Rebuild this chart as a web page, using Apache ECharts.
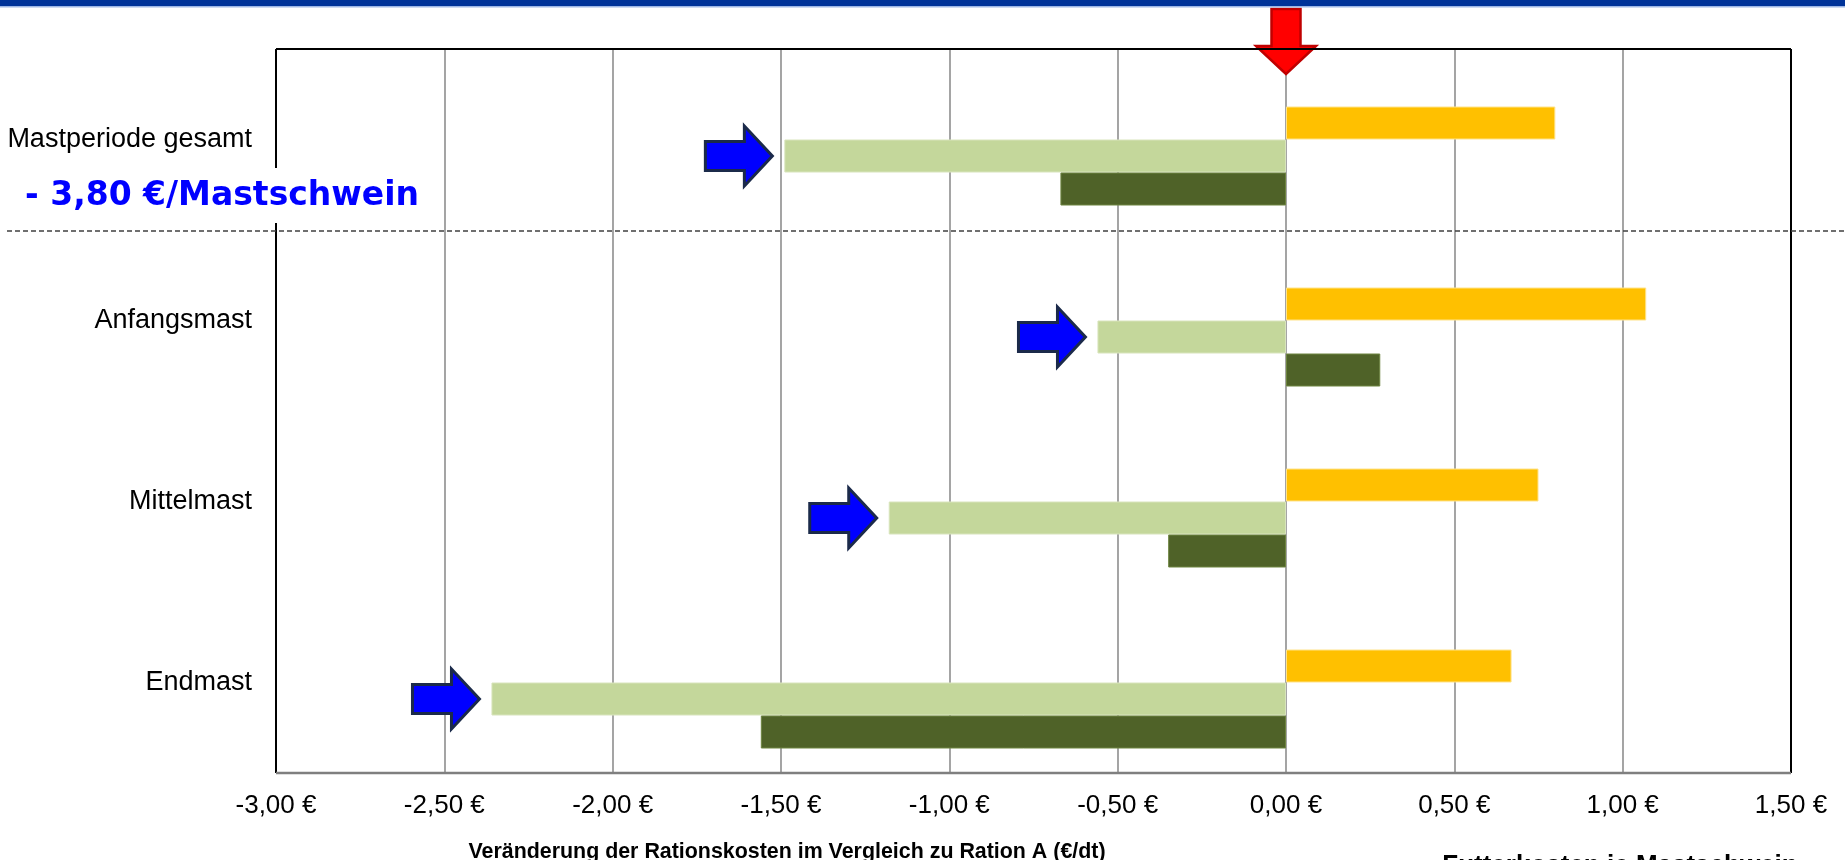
<!DOCTYPE html>
<html>
<head>
<meta charset="utf-8">
<title>Futterkosten je Mastschwein</title>
<script src="https://cdn.jsdelivr.net/npm/echarts@6/dist/echarts.min.js"></script>
<style>
  html, body { margin: 0; padding: 0; background: #fff; }
  #chart { width: 1845px; height: 860px; }
</style>
</head>
<body>
<div id="chart"></div>
<script>
// Phases of the fattening period (top to bottom)
const categories = ['Mastperiode gesamt', 'Anfangsmast', 'Mittelmast', 'Endmast'];

// Change of ration cost compared with ration A (€/dt)
const rationB = [0.80, 1.07, 0.75, 0.67];
const rationC = [-1.49, -0.56, -1.18, -2.36];
const rationD = [-0.67, 0.28, -0.35, -1.56];

// Value axis
const xMin = -3, xMax = 1.5, xStep = 0.5;
const xTickLabels = ['-3,00 €', '-2,50 €', '-2,00 €', '-1,50 €', '-1,00 €', '-0,50 €', '0,00 €', '0,50 €', '1,00 €', '1,50 €'];

// Texts
const axisTitle = 'Veränderung der Rationskosten im Vergleich zu Ration A (€/dt)';
const costTitle = 'Futterkosten je Mastschwein';
const savingNote = '- 3,80 €/Mastschwein';

// Layout
const G = { left: 276, top: 49, right: 1791, bottom: 773 };
const W = 1845, H = 860;
const BAR_W = 33;
const FONT = '"Liberation Sans", Arial, sans-serif';

const chart = echarts.init(document.getElementById('chart'), null, { renderer: 'canvas' });

// Blue arrow pointing at the end of each ration C bar
function blueArrow(params, api) {
  const p = api.coord([api.value(0), api.value(1)]);
  const y = p[1] + BAR_W / 2;           // centre of the second visible bar
  const tip = p[0] - 12;
  const len = 67, head = 28, hh = 30, sh = 14.5;
  return {
    type: 'polygon',
    shape: { points: [
      [tip - len, y - sh], [tip - head, y - sh], [tip - head, y - hh], [tip, y],
      [tip - head, y + hh], [tip - head, y + sh], [tip - len, y + sh]
    ] },
    style: { fill: '#0000FF', stroke: '#1B2A4A', lineWidth: 3, lineJoin: 'miter' },
    z2: 10
  };
}

// Red arrow marking the zero line from above the plot
function redArrow(params, api) {
  const x = api.coord([api.value(0), 0])[0];
  const top = params.coordSys.y;
  const t = top - 40, hs = top - 3, tip = top + 25, sw = 14.5, hw = 30;
  return {
    type: 'polygon',
    shape: { points: [
      [x - sw, t], [x + sw, t], [x + sw, hs], [x + hw, hs], [x, tip],
      [x - hw, hs], [x - sw, hs]
    ] },
    style: { fill: '#FF0000', stroke: '#C00000', lineWidth: 2.5 },
    z2: 10
  };
}

const barStyle = (fill, edge) => ({ color: fill, borderColor: edge, borderWidth: 1 });

const option = {
  animation: false,
  backgroundColor: '#fff',
  textStyle: { fontFamily: FONT },
  grid: {
    left: G.left, top: G.top, right: W - G.right, bottom: H - G.bottom,
    outerBoundsMode: 'none', containLabel: false
  },
  xAxis: {
    type: 'value',
    min: xMin, max: xMax, interval: xStep,
    axisLine: { show: false },
    axisTick: { show: false },
    splitLine: { show: true, lineStyle: { color: '#8E8E8E', width: 1.6 } },
    axisLabel: {
      fontSize: 26, color: '#000', fontFamily: FONT, margin: 20,
      formatter: (v) => xTickLabels[Math.round((v - xMin) / xStep)]
    }
  },
  yAxis: {
    type: 'category',
    inverse: true,
    data: categories,
    axisLine: { show: false },
    axisTick: { show: false },
    splitLine: { show: false },
    axisLabel: { fontSize: 27, color: '#000', fontFamily: FONT, margin: 24 }
  },
  series: [
    { name: 'Leer', type: 'bar', barWidth: BAR_W, barGap: '0%', data: categories.map(() => null), silent: true },
    { name: 'Ration B', type: 'bar', barWidth: BAR_W, barGap: '0%', data: rationB, itemStyle: barStyle('#FFC000', '#FFE38A') },
    { name: 'Ration C', type: 'bar', barWidth: BAR_W, barGap: '0%', data: rationC, itemStyle: barStyle('#C4D79B', '#D8E4BC') },
    { name: 'Ration D', type: 'bar', barWidth: BAR_W, barGap: '0%', data: rationD, itemStyle: barStyle('#4F6228', '#6E8540') },
    { name: 'Pfeile', type: 'custom', renderItem: blueArrow, clip: false, z: 5,
      data: rationC.map((v, i) => [v, i]) },
    { name: 'Null', type: 'custom', renderItem: redArrow, clip: false, z: 5, data: [[0]] }
  ],
  graphic: [
    // header band
    { type: 'rect', shape: { x: 0, y: 0, width: W, height: 6 }, style: { fill: '#003399' }, z: 20 },
    { type: 'rect', shape: { x: 0, y: 6, width: W, height: 1.5 }, style: { fill: '#9DB7E6' }, z: 20 },
    // plot frame
    { type: 'line', shape: { x1: G.left, y1: G.top, x2: G.right, y2: G.top }, style: { stroke: '#000', lineWidth: 2 }, z: 20 },
    { type: 'line', shape: { x1: G.left, y1: G.top, x2: G.left, y2: G.bottom }, style: { stroke: '#000', lineWidth: 2 }, z: 20 },
    { type: 'line', shape: { x1: G.right, y1: G.top, x2: G.right, y2: G.bottom }, style: { stroke: '#000', lineWidth: 2 }, z: 20 },
    { type: 'line', shape: { x1: G.left, y1: G.bottom, x2: G.right, y2: G.bottom }, style: { stroke: '#7F7F7F', lineWidth: 2.5 }, z: 20 },
    // divider between total period and the phases
    { type: 'line', shape: { x1: 7, y1: 231, x2: W, y2: 231 },
      style: { stroke: '#404040', lineWidth: 1.5, lineDash: [5, 3] }, z: 21 },
    // note box with saving per pig
    { type: 'rect', shape: { x: 0, y: 168, width: 442, height: 55 }, style: { fill: '#fff' }, z: 22 },
    { type: 'text', x: 25, y: 196, z: 23,
      style: { text: savingNote, fill: '#0000FF', font: 'bold 33px "DejaVu Sans", Verdana, sans-serif',
               textAlign: 'left', textVerticalAlign: 'middle' } },
    // axis title and caption
    { type: 'text', x: 787, y: 852, z: 23,
      style: { text: axisTitle, fill: '#000', font: 'bold 21.4px ' + FONT, textAlign: 'center', textVerticalAlign: 'middle' } },
    { type: 'text', x: 1620, y: 866, z: 23,
      style: { text: costTitle, fill: '#000', font: 'bold 26px ' + FONT, textAlign: 'center', textVerticalAlign: 'middle' } }
  ]
};

chart.setOption(option);
</script>
</body>
</html>
